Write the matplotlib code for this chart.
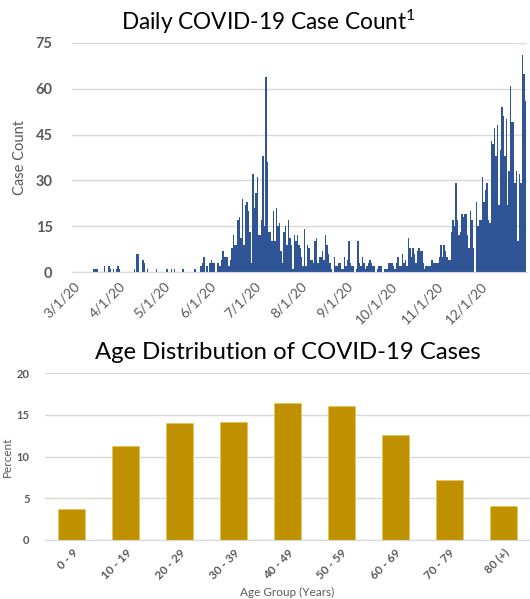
import matplotlib
matplotlib.use('Agg')
import matplotlib.pyplot as plt
import pandas as pd

# ---- Daily case counts (3/1/20 - 12/31/20), by month ----
march = [0,0,0,0,0,0,0,0,0,0,0,0,0,0,1,1,1,0,0,0,0,2,0,0,2,1,0,1,0,1,2]
april = [1,0,0,0,0,0,0,0,0,0,1,0,6,6,0,0,4,3,0,1,0,0,0,0,0,1,0,0,0,0]
may = [0,0,1,0,0,1,0,1,0,0,0,0,0,1,0,0,0,0,0,0,0,1,0,0,0,2,3,5,0,2,0]
june = [3,4,3,3,0,3,3,2,4,7,5,5,5,2,4,8,12,9,9,17,18,11,24,9,22,23,20,13,3,32]
july = [21,26,31,12,12,17,38,15,64,36,13,13,10,20,10,21,15,16,7,3,13,15,9,17,11,9,1,12,10,12,9]
august = [8,5,2,14,2,9,8,4,4,3,10,11,3,5,5,7,4,12,9,6,3,1,0,5,2,2,3,3,1,1,5]
september = [2,4,10,3,2,2,0,1,10,3,2,5,3,1,2,3,4,3,2,2,0,1,2,2,2,0,1,1,1,3]
october = [3,3,2,1,3,5,2,2,6,3,4,2,11,8,5,8,6,3,7,8,7,7,3,1,2,2,2,2,4,3,3]
november = [3,3,5,9,5,9,7,5,4,4,13,17,15,29,17,12,13,19,18,19,19,12,8,20,17,8,0,23,15,17]
december = [17,31,23,27,29,17,16,43,42,47,38,48,22,40,54,51,38,50,22,33,61,49,49,29,33,10,32,29,71,65,56]

cases = march + april + may + june + july + august + september + october + november + december
start_date = '2020-03-01'
month_ticks = ['2020-03-01', '2020-04-01', '2020-05-01', '2020-06-01', '2020-07-01',
               '2020-08-01', '2020-09-01', '2020-10-01', '2020-11-01', '2020-12-01']
month_labels = ['3/1/20', '4/1/20', '5/1/20', '6/1/20', '7/1/20',
                '8/1/20', '9/1/20', '10/1/20', '11/1/20', '12/1/20']
case_yticks = [0, 15, 30, 45, 60, 75]

# ---- Age distribution ----
age_groups = ['0 - 9', '10 - 19', '20 - 29', '30 - 39', '40 - 49', '50 - 59', '60 - 69', '70 - 79', '80 (+)']
age_pct = [3.7, 11.2, 14.0, 14.1, 16.4, 16.1, 12.6, 7.2, 4.1]
pct_yticks = [0, 5, 10, 15, 20]

plt.rcParams['font.family'] = ['Lato', 'DejaVu Sans']
plt.rcParams['mathtext.fontset'] = 'custom'
plt.rcParams['mathtext.rm'] = 'Lato'
plt.rcParams['mathtext.it'] = 'Lato'

W, H = 530, 599
fig = plt.figure(figsize=(W / 100, H / 100), dpi=100)

GRID = '#D9D9D9'
TXT = '#595959'

# ---------------- Top chart ----------------
ax1 = fig.add_axes([72 / W, 1 - 272 / H, (527 - 72) / W, (272 - 43) / H])
dates = pd.date_range(start_date, periods=len(cases), freq='D')
ax1.bar(dates, cases, width=1.0, color='#2F5597', linewidth=0, zorder=2)
ax1.set_ylim(0, 75)
ax1.set_yticks(case_yticks)
ax1.set_xlim(dates[0] - pd.Timedelta(days=1), dates[-1] + pd.Timedelta(days=1))
ax1.set_xticks(pd.to_datetime(month_ticks))
ax1.set_xticklabels(month_labels, rotation=45, ha='right', rotation_mode='anchor',
                    fontsize=10, color=TXT)
ax1.tick_params(axis='y', length=0, labelsize=10.5, labelcolor=TXT, pad=14)
ax1.tick_params(axis='x', length=0, pad=6)
for lbl in ax1.get_yticklabels():
    lbl.set_fontweight('bold')
ax1.yaxis.grid(True, color=GRID, linewidth=1.0, zorder=0)
ax1.set_axisbelow(True)
for s in ['top', 'right', 'left']:
    ax1.spines[s].set_visible(False)
ax1.spines['bottom'].set_color(GRID)
ax1.set_ylabel('Case Count', fontsize=10.5, color=TXT, labelpad=6)
fig.text(268 / W, 1 - 22 / H, 'Daily COVID-19 Case Count$^{1}$', ha='center', va='center',
         fontsize=16.3, color='black')

# ---------------- Bottom chart ----------------
ax2 = fig.add_axes([45 / W, 1 - 540 / H, (530 - 45) / W, (540 - 373) / H])
ax2.bar(range(len(age_groups)), age_pct, width=0.5, color='#BF9000',
        edgecolor='#E6C65A', linewidth=0.6, zorder=2)
ax2.set_ylim(0, 20)
ax2.set_yticks(pct_yticks)
ax2.set_xlim(-0.5, len(age_groups) - 0.5)
ax2.set_xticks(range(len(age_groups)))
ax2.set_xticklabels(age_groups, rotation=45, ha='right', rotation_mode='anchor',
                    fontsize=8.5, color=TXT, fontweight='bold')
ax2.tick_params(axis='y', length=0, labelsize=8, labelcolor=TXT, pad=11)
ax2.tick_params(axis='x', length=0, pad=5)
for lbl in ax2.get_yticklabels():
    lbl.set_fontweight('bold')
ax2.yaxis.grid(True, color=GRID, linewidth=1.0, zorder=0)
ax2.set_axisbelow(True)
for s in ['top', 'right', 'left']:
    ax2.spines[s].set_visible(False)
ax2.spines['bottom'].set_color(GRID)
ax2.set_ylabel('Percent', fontsize=8.5, color=TXT, labelpad=3)
ax2.set_xlabel('Age Group (Years)', fontsize=8.5, color=TXT, labelpad=4)
ax2.set_title('Age Distribution of COVID-19 Cases', fontsize=17.2, color='black', pad=10)

fig.savefig('out.png', dpi=100)
